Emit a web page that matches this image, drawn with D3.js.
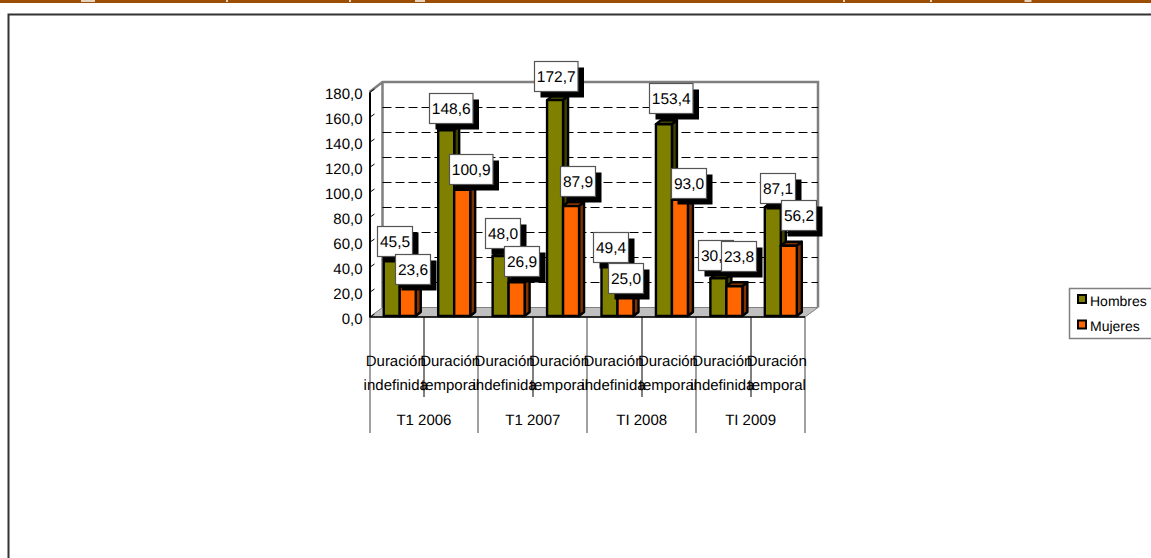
<!DOCTYPE html>
<html>
<head>
<meta charset="utf-8">
<script src="https://cdn.jsdelivr.net/npm/d3@7"></script>
<style>
html,body{margin:0;padding:0;background:#fff;overflow:hidden}
svg{display:block}
text{font-family:"Liberation Sans",Arial,sans-serif;fill:#000;text-rendering:geometricPrecision}
</style>
</head>
<body>
<svg id="c" width="1151" height="558"></svg>
<script>
const periods = ["T1 2006", "T1 2007", "TI 2008", "TI 2009"];
const contracts = ["Duración indefinida", "Duración temporal"];
const seriesNames = ["Hombres", "Mujeres"];
const hombres = [45.5, 148.6, 48.0, 172.7, 49.4, 153.4, 30.1, 87.1];
const mujeres = [23.6, 100.9, 26.9, 87.9, 25.0, 93.0, 23.8, 56.2];
const yTicks = [0, 20, 40, 60, 80, 100, 120, 140, 160, 180];

// hand placement of the data labels, as the original has them
const nudgeH = [[3,-3],[4.5,-7],[2,-8],[1,-9],[1,8],[6.5,-11],[-2.5,-8.5],[4.5,-4]];
const nudgeM = [[4.5,-2.5],[9,-6],[5,-6.4],[6.5,-10],[0,8],[8.75,-2],[4,-15],[9.5,-16]];

// remains of the cropped page heading in the top band: [centre, width]
const headingSpecks = [[88,14],[227,2],[350,2],[420,10],[844,2],[931,2],[1028,7]];

const colors = {Hombres:"#808000", Mujeres:"#FF6600"};
const sides = {Hombres:"#404000", Mujeres:"#803300"};
const dec = v => d3.format(".1f")(v).replace(".", ",");

const svg = d3.select("#c");
const keys = d3.range(hombres.length);
const x = d3.scaleBand().domain(keys).range([369.5, 805]);
const yAxisScale = d3.scaleLinear().domain([0,180]).range([317,92]);
const yWall = d3.scaleLinear().domain([0,180]).range([307.5,82]);
const yBar = d3.scaleLinear().domain([0,180]).range([316,91]);
const inner = d3.scaleBand().domain(seriesNames).range([14.25,46.25]);
const depth = {x:5, y:4};
const wall = {dx:13, dy:9.5};

// page furniture
svg.append("rect").attr("x",0).attr("y",0).attr("width",1151).attr("height",3).attr("fill","#9C4F03");
svg.append("g").selectAll("rect").data(headingSpecks).join("rect")
  .attr("x",d=>d[0]-d[1]/2).attr("y",0).attr("width",d=>d[1]).attr("height",2).attr("fill","#fff").attr("opacity",0.75);
svg.append("path").attr("d","M8.5,558V14.5H1151").attr("fill","none").attr("stroke","#333").attr("stroke-width",2);

// floor and walls
const x0 = x.range()[0], x1 = x.range()[1];
svg.append("path")
  .attr("d",`M${x0},${yAxisScale(0)}L${x0+wall.dx},${yWall(0)}H${x1+wall.dx}L${x1},${yAxisScale(0)}Z`)
  .attr("fill","#c0c0c0").attr("stroke","#808080").attr("stroke-width",1);
svg.append("path")
  .attr("d",`M${x0},${yAxisScale(180)}L${x0+wall.dx},${yWall(180)}H${x1+wall.dx}V${yWall(0)}M${x0+wall.dx},${yWall(180)}V${yWall(0)}`)
  .attr("fill","none").attr("stroke","#808080").attr("stroke-width",2.5);

// dashed grid on back wall
svg.append("g").selectAll("line").data(yTicks.filter(t => t>0 && t<180)).join("line")
  .attr("x1",x0+wall.dx).attr("x2",x1+wall.dx)
  .attr("y1",d=>Math.round(yWall(d))+0.5).attr("y2",d=>Math.round(yWall(d))+0.5)
  .attr("stroke","#000").attr("stroke-width",1).attr("stroke-dasharray","9,4");

// y axis
const axisG = svg.append("g").attr("transform",`translate(${x0},0)`)
  .call(d3.axisLeft(yAxisScale).tickValues(yTicks).tickFormat(dec).tickSize(0).tickPadding(6));
axisG.select(".domain").attr("stroke","#000").attr("stroke-width",2);
axisG.selectAll("text").attr("font-size",15).attr("dy","0.42em").attr("x",-7).style("font-family",'"Liberation Sans",Arial,sans-serif');
axisG.selectAll(".tick").append("line").attr("x1",0).attr("y1",0).attr("x2",5).attr("y2",-3.5).attr("stroke","#000");

// bars
function bar(g, name, values){
  const w = inner.bandwidth();
  const left = i => x(i)+inner(name);
  g.selectAll("path.top").data(values).join("path").attr("class","top")
    .attr("d",(v,i)=>`M${left(i)},${yBar(v)}l${depth.x},${-depth.y}h${w}l${-depth.x},${depth.y}Z`)
    .attr("fill",sides[name]);
  g.selectAll("path.side").data(values).join("path").attr("class","side")
    .attr("d",(v,i)=>`M${left(i)+w},${yBar(v)}l${depth.x},${-depth.y}V${yBar(0)-depth.y}l${-depth.x},${depth.y}Z`)
    .attr("fill",sides[name]);
  g.selectAll("rect").data(values).join("rect")
    .attr("x",(v,i)=>left(i)).attr("y",v=>yBar(v))
    .attr("width",w).attr("height",v=>yBar(0)-yBar(v))
    .attr("fill",colors[name]);
  g.selectAll("path,rect").attr("stroke","#000").attr("stroke-width",2.4).attr("stroke-linejoin","round");
}
bar(svg.append("g"),"Hombres",hombres);
bar(svg.append("g"),"Mujeres",mujeres);

// category axis
const tickG = svg.append("g");
d3.range(9).forEach(i=>{
  const major = i%2===0;
  const px = i<8 ? x(i) : x1;
  tickG.append("line").attr("x1",Math.round(px)).attr("x2",Math.round(px))
    .attr("y1",yAxisScale(0)).attr("y2",major?433:397)
    .attr("stroke",major?"#808080":"#000").attr("stroke-width",major?1.5:1);
});
svg.append("line").attr("x1",x0).attr("x2",x1).attr("y1",yAxisScale(0)).attr("y2",yAxisScale(0)).attr("stroke","#000").attr("stroke-width",1.5);
const catG = svg.append("g").attr("font-size",15).attr("text-anchor","middle");
keys.forEach(i=>{
  const [a,b] = contracts[i%2].split(" ");
  const cx = x(i)+x.bandwidth()/2-1;
  catG.append("text").attr("x",cx).attr("y",366).text(a);
  catG.append("text").attr("x",cx).attr("y",390).text(b);
});
periods.forEach((p,i)=>{
  catG.append("text").attr("x",x(i*2)+x.bandwidth()).attr("y",425).text(p);
});

// data labels
function labels(name, values, nudge){
  const g = svg.append("g");
  values.forEach((v,i)=>{
    const s = dec(v);
    const bw = s.length>4 ? 43.5 : 35, bh = 30;
    const cx = x(i)+inner(name)+inner.bandwidth()/2+nudge[i][0];
    const by = yBar(v)+nudge[i][1];
    const left = Math.round(cx-bw/2)+0.5, top = Math.round(by-bh)+0.5;
    g.append("rect").attr("x",left+6).attr("y",top+6).attr("width",bw).attr("height",bh).attr("fill","#000");
    g.append("rect").attr("x",left).attr("y",top).attr("width",bw).attr("height",bh).attr("fill","#fff").attr("stroke","#555").attr("stroke-width",1.2);
    g.append("text").attr("x",left+bw/2).attr("y",top+bh/2+5.5).attr("text-anchor","middle").attr("font-size",15.5).text(s);
  });
}
labels("Hombres",hombres,nudgeH);
labels("Mujeres",mujeres,nudgeM);

// legend
const lg = svg.append("g");
lg.append("rect").attr("x",1069.5).attr("y",288.5).attr("width",100).attr("height",50).attr("fill","#fff").attr("stroke","#808080").attr("stroke-width",1.5);
seriesNames.forEach((n,i)=>{
  lg.append("rect").attr("x",1078).attr("y",295+i*25.5).attr("width",8).attr("height",8).attr("fill",colors[n]).attr("stroke","#000").attr("stroke-width",2);
  lg.append("text").attr("x",1090).attr("y",306+i*25).attr("font-size",14).text(n);
});
</script>
</body>
</html>
